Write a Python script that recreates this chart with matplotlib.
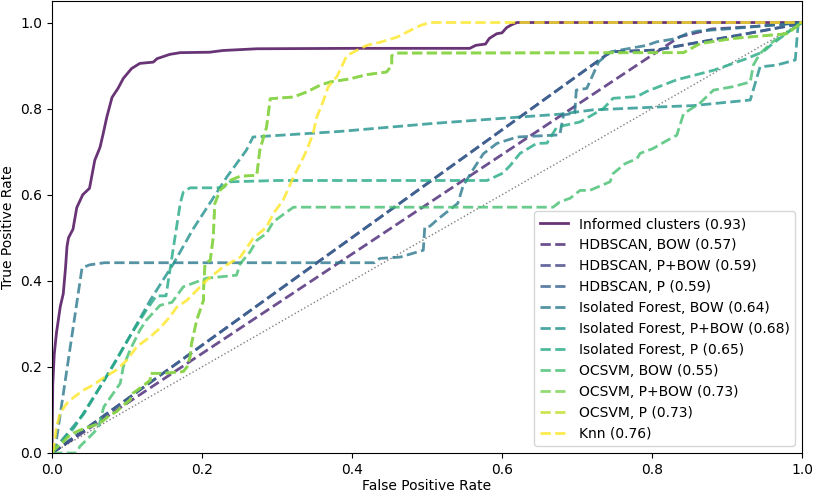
import numpy as np
import matplotlib
matplotlib.use("Agg")
import matplotlib.pyplot as plt

labels = ["Informed clusters (0.93)", "HDBSCAN, BOW (0.57)", "HDBSCAN, P+BOW (0.59)",
          "HDBSCAN, P (0.59)", "Isolated Forest, BOW (0.64)", "Isolated Forest, P+BOW (0.68)",
          "Isolated Forest, P (0.65)", "OCSVM, BOW (0.55)", "OCSVM, P+BOW (0.73)",
          "OCSVM, P (0.73)", "Knn (0.76)"]

informed_fpr = [0, 0.001, 0.003, 0.006, 0.011, 0.015, 0.018, 0.02, 0.022, 0.028, 0.033, 0.041, 0.05,
                0.057, 0.064, 0.068, 0.073, 0.08, 0.088, 0.095, 0.106, 0.117, 0.135, 0.14, 0.157,
                0.171, 0.21, 0.228, 0.273, 0.4, 0.557, 0.565, 0.578, 0.583, 0.593, 0.6, 0.606,
                0.613, 0.62, 1.0]
informed_tpr = [0, 0.16, 0.23, 0.28, 0.34, 0.37, 0.43, 0.48, 0.50, 0.52, 0.57, 0.60, 0.615,
                0.68, 0.71, 0.74, 0.78, 0.826, 0.847, 0.87, 0.893, 0.905, 0.908, 0.916, 0.926,
                0.93, 0.931, 0.935, 0.939, 0.94, 0.94, 0.947, 0.95, 0.963, 0.974, 0.976, 0.988,
                0.995, 1.0, 1.0]

hdb_bow_fpr = [0, 0.837, 0.88, 0.93, 1.0]
hdb_bow_tpr = [0, 0.967, 0.985, 0.99, 1.0]

hdb_pbow_fpr = [0, 0.745, 0.806, 0.846, 0.917, 0.988, 1.0]
hdb_pbow_tpr = [0, 0.932, 0.936, 0.949, 0.971, 0.994, 1.0]

hdb_p_fpr = [0, 0.745, 0.806, 0.846, 0.917, 0.988, 1.0]
hdb_p_tpr = [0, 0.932, 0.936, 0.949, 0.971, 0.994, 1.0]

if_bow_fpr = [0, 0.005, 0.04, 0.05, 0.07, 0.43, 0.437, 0.464, 0.495, 0.497, 0.504, 0.513, 0.541,
              0.548, 0.562, 0.575, 0.593, 0.62, 0.677, 0.682, 0.697, 0.699, 0.713, 0.729, 0.745,
              0.793, 0.806, 0.833, 0.846, 0.86, 0.9, 0.99, 1.0]
if_bow_tpr = [0, 0.02, 0.43, 0.437, 0.442, 0.442, 0.452, 0.455, 0.471, 0.525, 0.527, 0.541, 0.58,
              0.62, 0.66, 0.695, 0.719, 0.734, 0.739, 0.785, 0.79, 0.843, 0.847, 0.909, 0.932,
              0.947, 0.955, 0.963, 0.974, 0.98, 0.985, 0.998, 1.0]

if_pbow_fpr = [0, 0.006, 0.042, 0.086, 0.131, 0.162, 0.188, 0.233, 0.259, 0.268, 0.384, 0.504,
               0.62, 0.677, 0.721, 0.811, 0.855, 0.931, 0.944, 0.966, 0.991, 0.995, 1.0]
if_pbow_tpr = [0, 0.015, 0.09, 0.216, 0.355, 0.44, 0.52, 0.641, 0.703, 0.734, 0.747, 0.765,
               0.78, 0.787, 0.797, 0.804, 0.807, 0.82, 0.897, 0.901, 0.913, 1.0, 1.0]

if_p_fpr = [0, 0.03, 0.07, 0.1, 0.125, 0.139, 0.152, 0.162, 0.171, 0.175, 0.184, 0.228, 0.237,
            0.3, 0.58, 0.601, 0.611, 0.624, 0.646, 0.66, 0.673, 0.704, 0.735, 0.748, 0.78, 0.793,
            0.833, 0.882, 0.926, 0.948, 0.961, 0.988, 1.0]
if_p_tpr = [0, 0.06, 0.17, 0.26, 0.33, 0.365, 0.365, 0.479, 0.58, 0.606, 0.616, 0.616, 0.63,
            0.633, 0.633, 0.65, 0.668, 0.696, 0.719, 0.72, 0.757, 0.769, 0.8, 0.824, 0.828, 0.84,
            0.867, 0.889, 0.916, 0.932, 0.951, 0.986, 1.0]

oc_bow_fpr = [0, 0.015, 0.033, 0.037, 0.055, 0.062, 0.069, 0.091, 0.095, 0.104, 0.117, 0.126,
              0.144, 0.16, 0.175, 0.206, 0.246, 0.251, 0.264, 0.273, 0.286, 0.295, 0.313, 0.322,
              0.668, 0.677, 0.691, 0.704, 0.717, 0.744, 0.748, 0.764, 0.78, 0.784, 0.801, 0.82,
              0.833, 0.842, 0.864, 0.882, 0.908, 0.931, 0.935, 0.944, 0.961, 0.988, 1.0]
oc_bow_tpr = [0, 0.0, 0.0, 0.015, 0.046, 0.06, 0.107, 0.162, 0.2, 0.239, 0.285, 0.309,
              0.343, 0.35, 0.386, 0.406, 0.413, 0.44, 0.467, 0.494, 0.51, 0.537, 0.56, 0.571,
              0.571, 0.583, 0.592, 0.61, 0.61, 0.63, 0.649, 0.672, 0.684, 0.696, 0.707, 0.726,
              0.738, 0.788, 0.813, 0.843, 0.851, 0.862, 0.901, 0.928, 0.955, 0.986, 1.0]

oc_pbow_fpr = [0, 0.004, 0.015, 0.024, 0.037, 0.064, 0.077, 0.086, 0.095, 0.104, 0.108, 0.117,
               0.131, 0.131, 0.148, 0.175, 0.18, 0.184, 0.186, 0.193, 0.202, 0.202, 0.204, 0.211,
               0.215, 0.217, 0.224, 0.237, 0.251, 0.273, 0.277, 0.286, 0.291, 0.322, 0.34, 0.357,
               0.371, 0.397, 0.42, 0.446, 0.453, 0.453, 0.46, 0.842, 0.864, 0.908, 0.98, 1.0]
oc_pbow_tpr = [0, 0.01, 0.026, 0.042, 0.053, 0.069, 0.088, 0.096, 0.111, 0.123, 0.139, 0.15,
               0.169, 0.185, 0.185, 0.189, 0.2, 0.223, 0.254, 0.309, 0.355, 0.378, 0.44, 0.448,
               0.502, 0.579, 0.61, 0.633, 0.643, 0.645, 0.703, 0.757, 0.823, 0.827, 0.839, 0.854,
               0.862, 0.869, 0.879, 0.885, 0.9, 0.923, 0.929, 0.93, 0.951, 0.963, 0.974, 1.0]

oc_p_fpr = list(oc_pbow_fpr)
oc_p_tpr = list(oc_pbow_tpr)

knn_fpr = [0, 0.003, 0.006, 0.011, 0.02, 0.028, 0.042, 0.055, 0.068, 0.086, 0.1, 0.113, 0.131,
           0.144, 0.157, 0.166, 0.18, 0.193, 0.206, 0.228, 0.251, 0.268, 0.286, 0.295, 0.308,
           0.322, 0.331, 0.34, 0.348, 0.353, 0.362, 0.368, 0.38, 0.388, 0.393, 0.406, 0.42,
           0.437, 0.46, 0.477, 0.491, 0.504, 1.0]
knn_tpr = [0, 0.02, 0.061, 0.093, 0.116, 0.128, 0.146, 0.158, 0.174, 0.193, 0.216, 0.247, 0.27,
           0.29, 0.316, 0.338, 0.355, 0.378, 0.401, 0.432, 0.455, 0.498, 0.525, 0.556, 0.587,
           0.641, 0.672, 0.705, 0.742, 0.78, 0.819, 0.85, 0.875, 0.904, 0.923, 0.935, 0.947,
           0.954, 0.966, 0.981, 0.993, 1.0, 1.0]

curves = [(informed_fpr, informed_tpr), (hdb_bow_fpr, hdb_bow_tpr), (hdb_pbow_fpr, hdb_pbow_tpr),
          (hdb_p_fpr, hdb_p_tpr), (if_bow_fpr, if_bow_tpr), (if_pbow_fpr, if_pbow_tpr),
          (if_p_fpr, if_p_tpr), (oc_bow_fpr, oc_bow_tpr), (oc_pbow_fpr, oc_pbow_tpr),
          (oc_p_fpr, oc_p_tpr), (knn_fpr, knn_tpr)]

colors = plt.cm.viridis(np.linspace(0, 1, len(curves)))

fig = plt.figure(figsize=(8.14, 4.94), dpi=100)
ax = fig.add_axes([0.0639, 0.083, 0.9214, 0.915])

for i, ((fx, ty), lab) in enumerate(zip(curves, labels)):
    ls = '-' if i == 0 else '--'
    z = 2 + i * 0.01
    if i == 9:
        z = 2 + 0.075
    ax.plot(fx, ty, ls, color=colors[i], lw=2, alpha=0.8, label=lab, zorder=z)

ax.plot([0, 1], [0, 1], color='gray', lw=1, ls=':', zorder=1.5)
ax.set_xlim([0.0, 1.0])
ax.set_ylim([0.0, 1.05])
ax.set_xlabel('False Positive Rate', labelpad=2)
ax.set_ylabel('True Positive Rate')
ax.legend(loc='lower right')
fig.savefig('out.png', dpi=100)
